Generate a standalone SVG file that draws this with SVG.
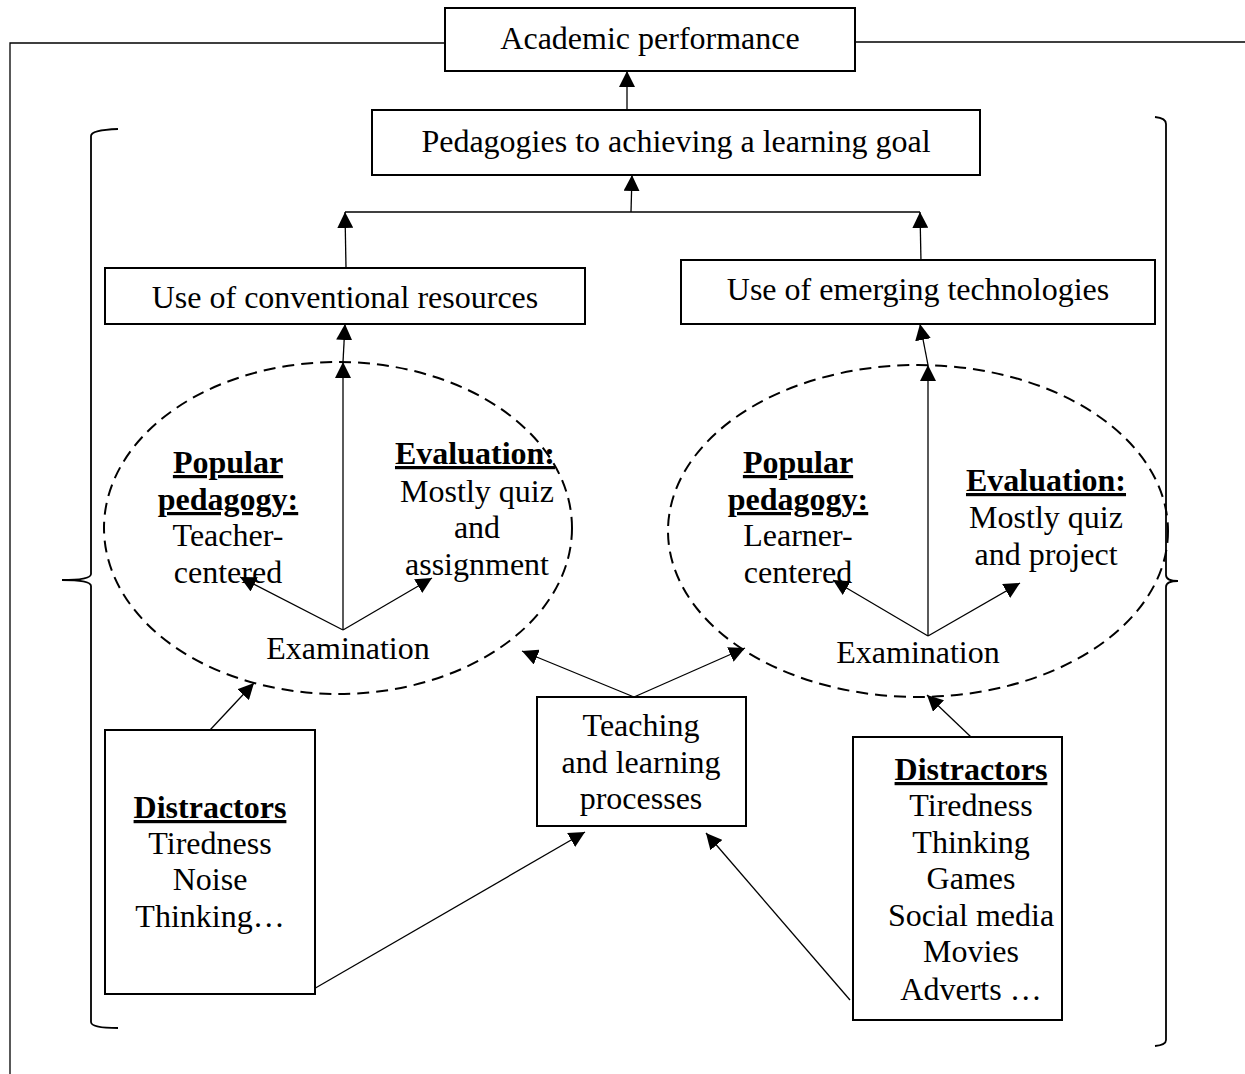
<svg xmlns="http://www.w3.org/2000/svg" width="1245" height="1074" viewBox="0 0 1245 1074">
<style>
text{font-family:"Liberation Serif","Times New Roman",serif;font-size:32px;fill:#000;text-anchor:middle}
.b{font-weight:bold;text-decoration:underline}
.box{fill:#fff;stroke:#000;stroke-width:2}
.ell{fill:none;stroke:#000;stroke-width:2;stroke-dasharray:12,7}
.ln{fill:none;stroke:#000;stroke-width:1.3}
.br{fill:none;stroke:#000;stroke-width:1.8}
</style>
<defs>
<marker id="ah" viewBox="0 0 10 10" refX="10" refY="5" markerWidth="16" markerHeight="16" markerUnits="userSpaceOnUse" orient="auto">
<path d="M0,0 L10,5 L0,10 z" fill="#000"/>
</marker>
</defs>
<g id="frame">
<path class="ln" d="M10,1074 L10,43 L445,43 M855,42 L1245,42"/>
<path class="br" d="M118,129 Q91,130 91,136 L91,574 Q91,580 62,580 Q91,580 91,586 L91,1022 Q91,1028 118,1028"/>
<path class="br" d="M1155,117 Q1166,118 1166,124 L1166,575 Q1166,581 1178,581 Q1166,581 1166,587 L1166,1040 Q1166,1045 1155,1046"/>
</g>
<g id="connectors">
<line class="ln" x1="627" y1="110" x2="627" y2="71" marker-end="url(#ah)"/>
<line class="ln" x1="345" y1="212" x2="920" y2="212"/>
<line class="ln" x1="631" y1="212" x2="632" y2="175" marker-end="url(#ah)"/>
<line class="ln" x1="346" y1="268" x2="345" y2="212" marker-end="url(#ah)"/>
<line class="ln" x1="921" y1="262" x2="920" y2="212" marker-end="url(#ah)"/>
<line class="ln" x1="343" y1="630" x2="343" y2="362" marker-end="url(#ah)"/>
<line class="ln" x1="343" y1="362" x2="345" y2="324" marker-end="url(#ah)"/>
<line class="ln" x1="343" y1="630" x2="240" y2="577" marker-end="url(#ah)"/>
<line class="ln" x1="343" y1="630" x2="432" y2="578" marker-end="url(#ah)"/>
<line class="ln" x1="928" y1="636" x2="928" y2="365" marker-end="url(#ah)"/>
<line class="ln" x1="928" y1="365" x2="920" y2="324" marker-end="url(#ah)"/>
<line class="ln" x1="928" y1="636" x2="833" y2="580" marker-end="url(#ah)"/>
<line class="ln" x1="928" y1="636" x2="1020" y2="583" marker-end="url(#ah)"/>
<line class="ln" x1="634" y1="697" x2="522" y2="651" marker-end="url(#ah)"/>
<line class="ln" x1="634" y1="697" x2="745" y2="648" marker-end="url(#ah)"/>
<line class="ln" x1="210" y1="730" x2="254" y2="683" marker-end="url(#ah)"/>
<line class="ln" x1="312" y1="990" x2="585" y2="832" marker-end="url(#ah)"/>
<line class="ln" x1="971" y1="737" x2="927" y2="695" marker-end="url(#ah)"/>
<line class="ln" x1="850" y1="1000" x2="706" y2="833" marker-end="url(#ah)"/>
</g>
<g id="academic">
<rect class="box" x="445" y="8" width="410" height="63"/>
<text x="650" y="49">Academic performance</text>
</g>
<g id="pedagogies">
<rect class="box" x="372" y="110" width="608" height="65"/>
<text x="676" y="152">Pedagogies to achieving a learning goal</text>
</g>
<g id="conventional">
<rect class="box" x="105" y="268" width="480" height="56"/>
<text x="345" y="308">Use of conventional resources</text>
</g>
<g id="emerging">
<rect class="box" x="681" y="260" width="474" height="64"/>
<text x="918" y="300">Use of emerging technologies</text>
</g>
<g id="ellipse-left">
<ellipse class="ell" cx="338" cy="528" rx="234" ry="166"/>
<text class="b" x="228" y="473">Popular</text>
<text class="b" x="228" y="510">pedagogy:</text>
<text x="228" y="546">Teacher-</text>
<text x="228" y="583">centered</text>
<text class="b" x="475" y="464">Evaluation:</text>
<text x="477" y="502">Mostly quiz</text>
<text x="477" y="538">and</text>
<text x="477" y="575">assignment</text>
<text x="348" y="659">Examination</text>
</g>
<g id="ellipse-right">
<ellipse class="ell" cx="918" cy="531" rx="250" ry="166"/>
<text class="b" x="798" y="473">Popular</text>
<text class="b" x="798" y="510">pedagogy:</text>
<text x="798" y="546">Learner-</text>
<text x="798" y="583">centered</text>
<text class="b" x="1046" y="491">Evaluation:</text>
<text x="1046" y="528">Mostly quiz</text>
<text x="1046" y="565">and project</text>
<text x="918" y="663">Examination</text>
</g>
<g id="teaching">
<rect class="box" x="537" y="697" width="209" height="129"/>
<text x="641" y="736">Teaching</text>
<text x="641" y="773">and learning</text>
<text x="641" y="809">processes</text>
</g>
<g id="distractors-left">
<rect class="box" x="105" y="730" width="210" height="264"/>
<text class="b" x="210" y="818">Distractors</text>
<text x="210" y="854">Tiredness</text>
<text x="210" y="890">Noise</text>
<text x="210" y="927">Thinking…</text>
</g>
<g id="distractors-right">
<rect class="box" x="853" y="737" width="209" height="283"/>
<text class="b" x="971" y="780">Distractors</text>
<text x="971" y="816">Tiredness</text>
<text x="971" y="853">Thinking</text>
<text x="971" y="889">Games</text>
<text x="971" y="926">Social media</text>
<text x="971" y="962">Movies</text>
<text x="971" y="1000">Adverts …</text>
</g>
</svg>
